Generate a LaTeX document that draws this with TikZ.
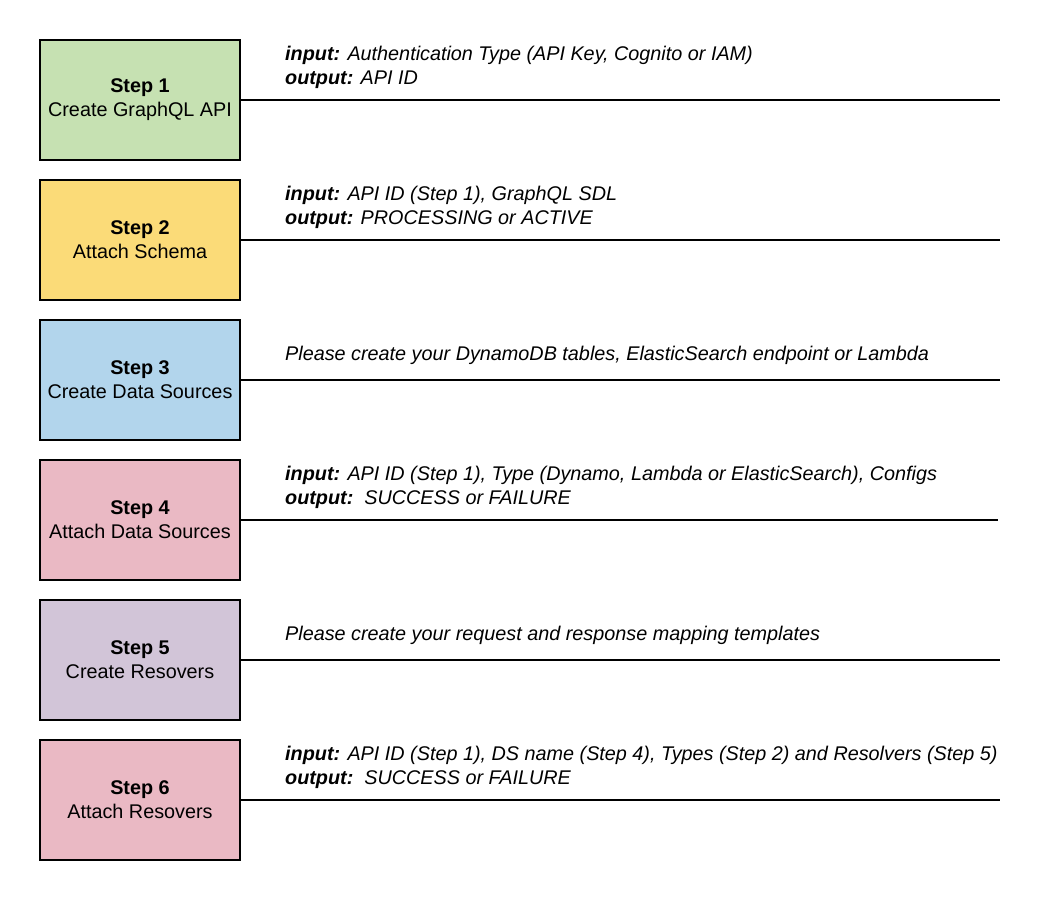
\documentclass[tikz,border=0pt]{standalone}
\usepackage{fontspec}
\setmainfont{Liberation Sans}
\definecolor{stepgreen}{HTML}{C6E1B2}
\definecolor{stepyellow}{HTML}{FBDB78}
\definecolor{stepblue}{HTML}{B2D5EC}
\definecolor{steppink}{HTML}{EAB9C4}
\definecolor{stepmix}{HTML}{D2C5D8}
\begin{document}
\begin{tikzpicture}[x=1pt,y=-1pt,
  stepbox/.style={draw=black,line width=2pt,minimum width=200pt,minimum height=120pt,
    inner sep=0pt,align=center,font=\fontsize{19.8}{24}\selectfont},
  rule/.style={line width=2pt,black},
  note/.style={anchor=base west,inner sep=0pt,font=\fontsize{19.8}{24}\selectfont\itshape}]
  \useasboundingbox[fill=white] (0,0) rectangle (1060,900);

  % step boxes
  \node[stepbox,fill=stepgreen]  (s1) at (140,100) {\textbf{Step 1}\\Create GraphQL API};
  \node[stepbox,fill=stepyellow] (s2) at (140,240) {\textbf{Step 2}\\Attach Schema};
  \node[stepbox,fill=stepblue]   (s3) at (140,380) {\textbf{Step 3}\\Create Data Sources};
  \node[stepbox,fill=steppink]   (s4) at (140,520) {\textbf{Step 4}\\Attach Data Sources};
  \node[stepbox,fill=stepmix]    (s5) at (140,660) {\textbf{Step 5}\\Create Resovers};
  \node[stepbox,fill=steppink]   (s6) at (140,800) {\textbf{Step 6}\\Attach Resovers};

  % line ends
  \coordinate (e1) at (1000,100);
  \coordinate (e2) at (1000,240);
  \coordinate (e3) at (1000,380);
  \coordinate (e4) at (998,520);
  \coordinate (e5) at (1000,660);
  \coordinate (e6) at (1000,800);

  \foreach \i in {1,...,6} \draw[rule] (s\i.east) -- (e\i);

  % notes above each line
  \node[note] (n1a) at (285,60) {\textbf{input:} Authentication Type (API Key, Cognito or IAM)};
  \node[note] (n1b) at (285,84) {\textbf{output:} API ID};
  \node[note] (n2a) at (285,200) {\textbf{input:} API ID (Step 1), GraphQL SDL};
  \node[note] (n2b) at (285,224) {\textbf{output:} PROCESSING or ACTIVE};
  \node[note] (n3)  at (285,360) {Please create your DynamoDB tables, ElasticSearch endpoint or Lambda};
  \node[note] (n4a) at (285,480) {\textbf{input:} API ID (Step 1), Type (Dynamo, Lambda or ElasticSearch), Configs};
  \node[note] (n4b) at (285,504) {\textbf{output:}\ \ SUCCESS or FAILURE};
  \node[note] (n5)  at (285,640) {Please create your request and response mapping templates};
  \node[note] (n6a) at (285,760) {\textbf{input:} API ID (Step 1), DS name (Step 4), Types (Step 2) and Resolvers (Step 5)};
  \node[note] (n6b) at (285,784) {\textbf{output:}\ \ SUCCESS or FAILURE};
\end{tikzpicture}
\end{document}
